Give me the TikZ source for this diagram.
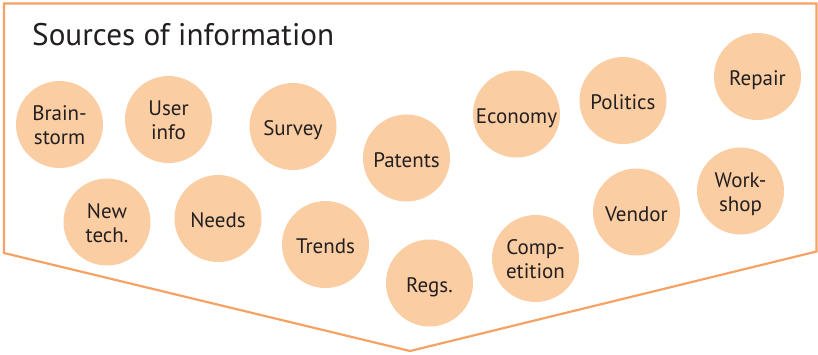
\documentclass[tikz,border=0pt]{standalone}
\usepackage{fontspec}
\setmainfont{PT Sans}
\definecolor{lineor}{HTML}{F6A264}
\definecolor{fillor}{HTML}{FBCDA3}
\definecolor{txt}{HTML}{231F20}
\newcommand\lbl[2][-4.3pt]{\raisebox{#1}[\height][\depth]{\begin{tabular}{@{}c@{}}#2\end{tabular}}}
\begin{document}
\begin{tikzpicture}[x=1pt,y=-1pt,
  src/.style={circle,fill=fillor,minimum size=87pt,inner sep=0pt,
    text=txt,font=\fontsize{21}{24}\selectfont},
  frame/.style={draw=lineor,line width=2.2pt,line join=miter}]
\useasboundingbox (0,0) rectangle (818,354);
\coordinate (tl) at (4,3.5);
\coordinate (tr) at (816.5,3.5);
\coordinate (rb) at (816.5,251.5);
\coordinate (bp) at (410,351);
\coordinate (lb) at (4,253);
\draw[frame] (tl) -- (tr) -- (rb) -- (bp) -- (lb) -- cycle;
\node[anchor=base west,text=txt,font=\fontsize{31.2}{36}\selectfont,inner sep=0pt] (title) at (32,45) {Sources of information};
\node[src] (brain) at (59.5,124.5) {\lbl[-3.5pt]{Brain-\\storm}};
\node[src] (user) at (168.5,119.5) {\lbl[-3.5pt]{User\\info}};
\node[src] (survey) at (293,126.5) {\lbl{Survey}};
\node[src] (patents) at (406.5,158) {\lbl{Patents}};
\node[src] (economy) at (516.5,114) {\lbl{Economy}};
\node[src] (politics) at (623,100.5) {\lbl{Politics}};
\node[src] (repair) at (757.5,76.5) {\lbl{Repair}};
\node[src] (newtech) at (107,222) {\lbl[-3.5pt]{New\\tech.}};
\node[src] (needs) at (218,218.5) {\lbl{Needs}};
\node[src] (trends) at (325.5,244.5) {\lbl{Trends}};
\node[src] (regs) at (429.5,283) {\lbl{Regs.}};
\node[src] (comp) at (535.5,258.5) {\lbl[-3.5pt]{Comp-\\etition}};
\node[src] (vendor) at (636.5,212) {\lbl{Vendor}};
\node[src] (work) at (740.5,191) {\lbl[-3.5pt]{Work-\\shop}};
\end{tikzpicture}
\end{document}
